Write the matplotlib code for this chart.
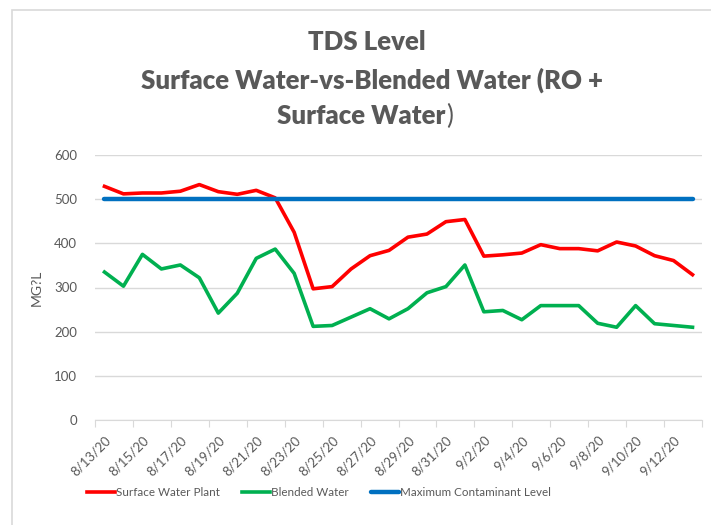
import pandas as pd
import matplotlib
matplotlib.use("Agg")
import matplotlib.pyplot as plt
from matplotlib.patches import Rectangle

plt.rcParams['font.family'] = ['Lato', 'DejaVu Sans']

# daily readings 8/13/20 .. 9/13/20
dates = pd.date_range("2020-08-13", "2020-09-13")
labels = [f"{d.month}/{d.day}/20" for d in dates]

surface_plant = [529, 512, 514, 514, 518, 533, 517, 511, 520, 503,
                 425, 297, 302, 342, 372, 384, 414, 421, 449, 454,
                 371, 374, 378, 397, 388, 388, 383, 403, 394, 372,
                 361, 329]
blended = [335, 303, 375, 342, 351, 322, 242, 287, 366, 387,
           332, 212, 214, 233, 252, 229, 252, 288, 302, 351,
           245, 248, 227, 259, 259, 259, 219, 210, 259, 218,
           214, 210]
mcl = [500] * len(labels)

gray = "#595959"

fig = plt.figure(figsize=(7.11, 5.25), dpi=100)
# chart area border
fig.patches.append(Rectangle((11.5 / 711, -0.05), 1.1, 1 - 9.5 / 525 + 0.05,
                             transform=fig.transFigure, fill=False,
                             edgecolor="#d9d9d9", lw=1.2))

ax = fig.add_axes([95 / 711, 105 / 525, 607 / 711, 265 / 525])
x = list(range(len(labels)))
ax.plot(x, surface_plant, color="#FF0000", lw=2.6, label="Surface Water Plant",
        solid_joinstyle="round", zorder=3)
ax.plot(x, blended, color="#00B050", lw=2.6, label="Blended Water",
        solid_joinstyle="round", zorder=3)
ax.plot(x, mcl, color="#0070C0", lw=3.2, label="Maximum Contaminant Level",
        solid_capstyle="round", zorder=3)

ax.set_xlim(-0.5, len(labels) - 0.5)
ax.set_ylim(0, 600)
ax.set_yticks(range(0, 601, 100))
ax.yaxis.grid(True, color="#d9d9d9", lw=1)
ax.set_axisbelow(True)
ax.tick_params(axis="y", length=0, labelsize=9.5, labelcolor=gray, pad=13)

# tick marks between categories, labels every second day
ax.set_xticks([i - 0.5 for i in range(0, len(labels) + 1, 2)])
ax.set_xticklabels([])
ax.tick_params(axis="x", which="major", length=5, color="#d9d9d9")
ax.set_xticks(x[::2], minor=True)
ax.set_xticklabels(labels[::2], minor=True, rotation=45, ha="right",
                   rotation_mode="anchor", fontsize=9.5, color=gray)
ax.tick_params(axis="x", which="minor", length=0, pad=10)

for s in ["top", "right", "left"]:
    ax.spines[s].set_visible(False)
ax.spines["bottom"].set_color("#d9d9d9")

ax.set_ylabel("MG?L", fontsize=10, color=gray, labelpad=8)

tw = "heavy"
fig.text(367 / 711, 1 - 42 / 525, "TDS Level", ha="center", va="center",
         fontsize=18.5, fontweight=tw, color=gray)
fig.text(372 / 711, 1 - 80 / 525, "Surface Water-vs-Blended Water (RO +",
         ha="center", va="center", fontsize=18.5, fontweight=tw, color=gray)
t = fig.text(361 / 711, 1 - 116 / 525, "Surface Water", ha="center",
             va="center", fontsize=18.5, fontweight=tw, color=gray)
fig.canvas.draw()
bb = t.get_window_extent()
fig.text(bb.x1 / 711 + 0.002, 1 - 116 / 525, ")", ha="left", va="center",
         fontsize=18.5, color=gray)

fig.legend(loc="center", bbox_to_anchor=(319 / 711, 1 - 493 / 525), ncol=3,
           frameon=False, fontsize=8.4, handlelength=2.4, columnspacing=1.9,
           handletextpad=0.1, labelcolor=gray)

fig.savefig("out.png", dpi=100)
